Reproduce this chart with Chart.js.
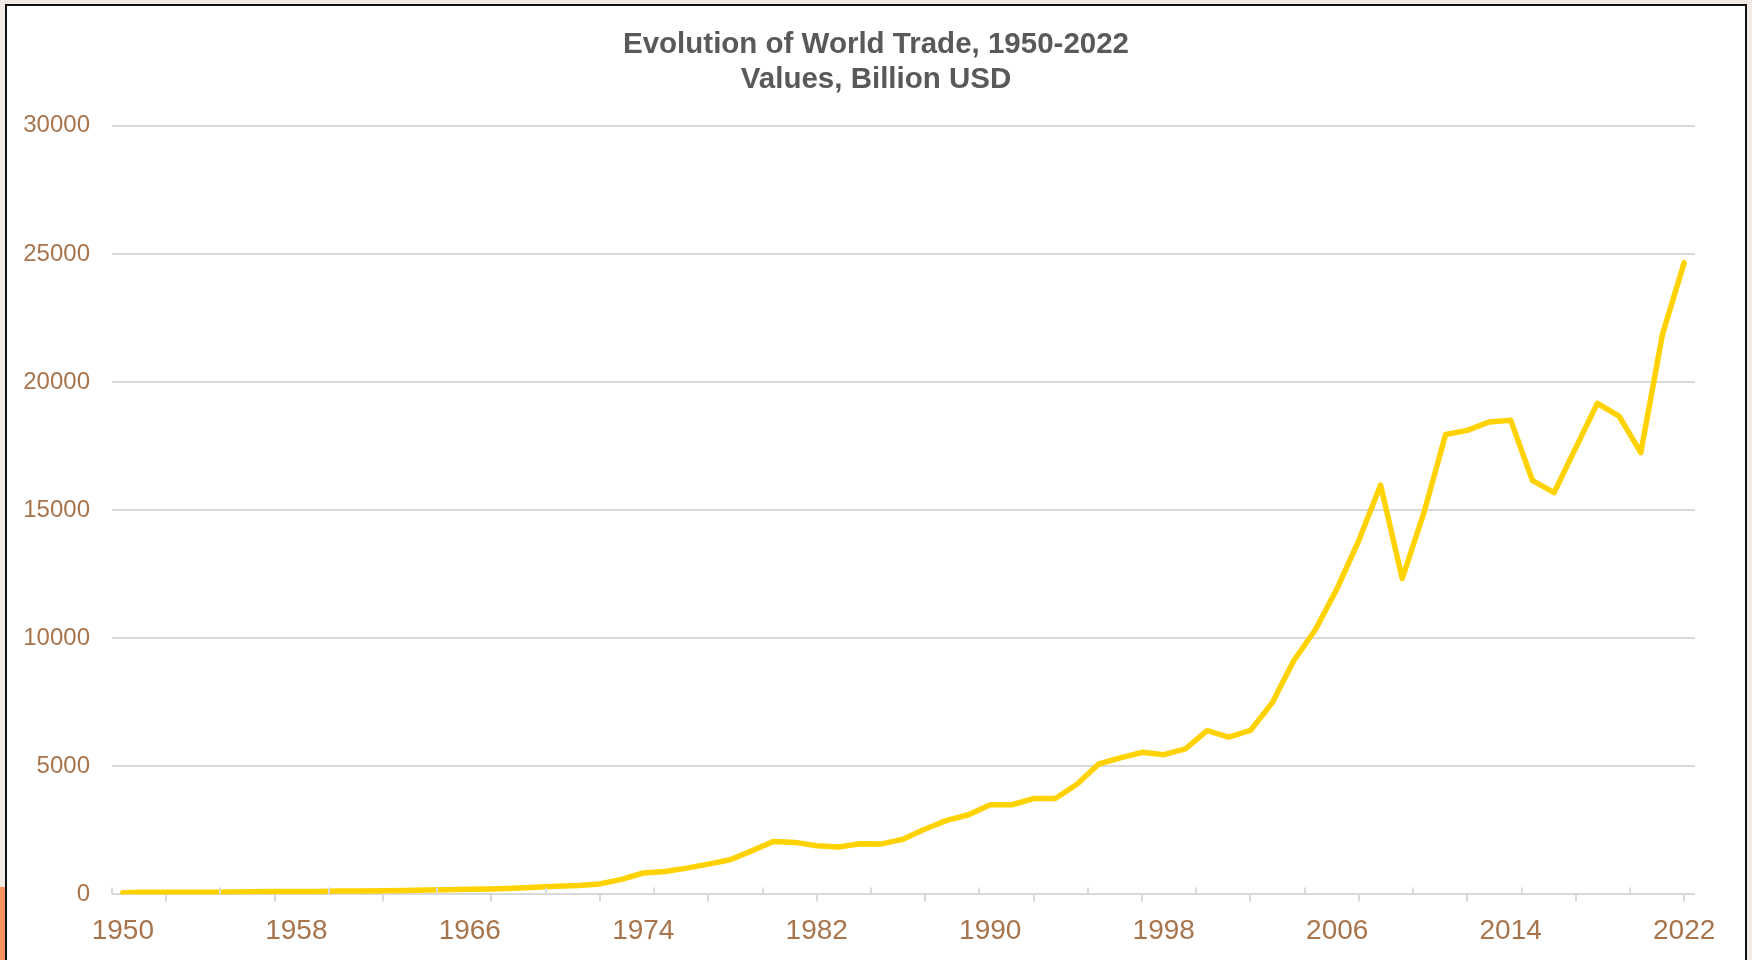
<!DOCTYPE html>
<html>
<head>
<meta charset="utf-8">
<title>Evolution of World Trade, 1950-2022</title>
<script src="https://cdn.jsdelivr.net/npm/chart.js@4/dist/chart.umd.min.js"></script>
<style>
    html, body {
        margin: 0;
        padding: 0;
        width: 1752px;
        height: 960px;
        overflow: hidden;
        background: #f2ebe5;
    }
    #frame {
        position: absolute;
        left: 5px;
        top: 4px;
        width: 1742px;
        height: 1000px;
        box-sizing: border-box;
        border: 2px solid #111;
        background: #fff;
    }
    #corner {
        position: absolute;
        left: 0;
        top: 887px;
        width: 5px;
        height: 73px;
        background: #f8915f;
    }
    #chart {
        position: absolute;
        left: 0;
        top: 0;
    }
</style>
</head>
<body>
<div id="corner"></div>
<div id="frame"></div>
<canvas id="chart" width="1752" height="960"></canvas>
<script>
// Years on the category axis
const years = [
    '1950', '1951', '1952', '1953', '1954', '1955', '1956', '1957', '1958', '1959',
    '1960', '1961', '1962', '1963', '1964', '1965', '1966', '1967', '1968', '1969',
    '1970', '1971', '1972', '1973', '1974', '1975', '1976', '1977', '1978', '1979',
    '1980', '1981', '1982', '1983', '1984', '1985', '1986', '1987', '1988', '1989',
    '1990', '1991', '1992', '1993', '1994', '1995', '1996', '1997', '1998', '1999',
    '2000', '2001', '2002', '2003', '2004', '2005', '2006', '2007', '2008', '2009',
    '2010', '2011', '2012', '2013', '2014', '2015', '2016', '2017', '2018', '2019',
    '2020', '2021', '2022'
];

// World trade, billion USD
const tradeValues = [
    60, 80, 80, 80, 85, 95, 105, 110, 110, 115,
    130, 135, 140, 155, 170, 185, 205, 215, 240, 275,
    315, 350, 410, 585, 835, 895, 1025, 1180, 1350, 1700,
    2065, 2030, 1900, 1850, 1975, 1970, 2160, 2550, 2890, 3110,
    3500, 3500, 3740, 3740, 4300, 5090, 5325, 5545, 5455, 5680,
    6390, 6135, 6400, 7475, 9130, 10340, 11950, 13820, 15980, 12330,
    14900, 17950, 18110, 18440, 18510, 16160, 15680, 17430, 19170, 18670,
    17240, 21860, 24660
];

// Labels shown under the x axis
const xTickLabels = ['1950', '1958', '1966', '1974', '1982', '1990', '1998', '2006', '2014', '2022'];

// Y axis ticks
const yTickValues = [0, 5000, 10000, 15000, 20000, 25000, 30000];

const titleLines = ['Evolution of World Trade, 1950-2022', 'Values, Billion USD'];

const FONT = "'Liberation Sans', Arial, sans-serif";
const LABEL_COLOR = '#a8744c';
const GRID_COLOR = '#d9d9d9';

/**
 * Small tick marks on the x axis, every 2.5 categories,
 * alternating above and below the axis line
 */
const axisTicks = {
    id: 'axisTicks',
    afterDraw(chart) {
        const x = chart.scales.x;
        const y = chart.scales.y;
        const ctx = chart.ctx;
        const base = y.getPixelForValue(0);
        const count = Math.floor(years.length / 2.5);

        ctx.save();
        ctx.strokeStyle = GRID_COLOR;
        ctx.lineWidth = 2;
        for (let i = 0; i <= count; i++) {
            const px = Math.round(x.getPixelForValue(i * 2.5 - 0.5));
            ctx.beginPath();
            ctx.moveTo(px, base);
            ctx.lineTo(px, i % 2 === 0 ? base - 7 : base + 7);
            ctx.stroke();
        }
        ctx.restore();
    }
};

const ctx = document.getElementById('chart').getContext('2d');

new Chart(ctx, {
    type: 'line',
    data: {
        labels: years,
        datasets: [{
            label: 'World trade',
            data: tradeValues,
            borderColor: '#ffd200',
            borderWidth: 5.5,
            borderCapStyle: 'round',
            borderJoinStyle: 'round',
            pointRadius: 0,
            tension: 0,
            fill: false
        }]
    },
    options: {
        responsive: false,
        animation: false,
        devicePixelRatio: 1,
        // no side padding so the title is centred on the page
        layout: {
            padding: { top: 0, left: 0, right: 0, bottom: -8 }
        },
        plugins: {
            legend: { display: false },
            tooltip: { enabled: false },
            title: {
                display: true,
                text: titleLines,
                color: '#595959',
                font: { family: FONT, size: 29.5, weight: 'bold', lineHeight: 1.2 },
                padding: { top: 27, bottom: 28 }
            }
        },
        scales: {
            x: {
                type: 'category',
                offset: true,
                grid: { display: false, drawTicks: false },
                border: { display: false },
                ticks: {
                    autoSkip: false,
                    maxRotation: 0,
                    padding: 20,
                    color: LABEL_COLOR,
                    font: { family: FONT, size: 28 },
                    callback: function (value) {
                        const label = this.getLabelForValue(value);
                        return xTickLabels.includes(label) ? label : '';
                    }
                }
            },
            y: {
                min: 0,
                max: 30000,
                afterBuildTicks: (scale) => {
                    scale.ticks = yTickValues.map(v => ({ value: v }));
                },
                afterFit: (scale) => {
                    scale.width = 112;
                },
                grid: { color: GRID_COLOR, lineWidth: 2, drawTicks: false },
                border: { display: false },
                ticks: {
                    padding: 22,
                    color: LABEL_COLOR,
                    font: { family: FONT, size: 24 },
                    callback: (value) => String(value)
                }
            },
            // empty right margin box
            spacer: {
                type: 'linear',
                position: 'right',
                afterFit: (scale) => {
                    scale.width = 57;
                },
                grid: { display: false, drawTicks: false },
                border: { display: false },
                ticks: { display: false }
            }
        }
    },
    plugins: [axisTicks]
});
</script>
</body>
</html>
